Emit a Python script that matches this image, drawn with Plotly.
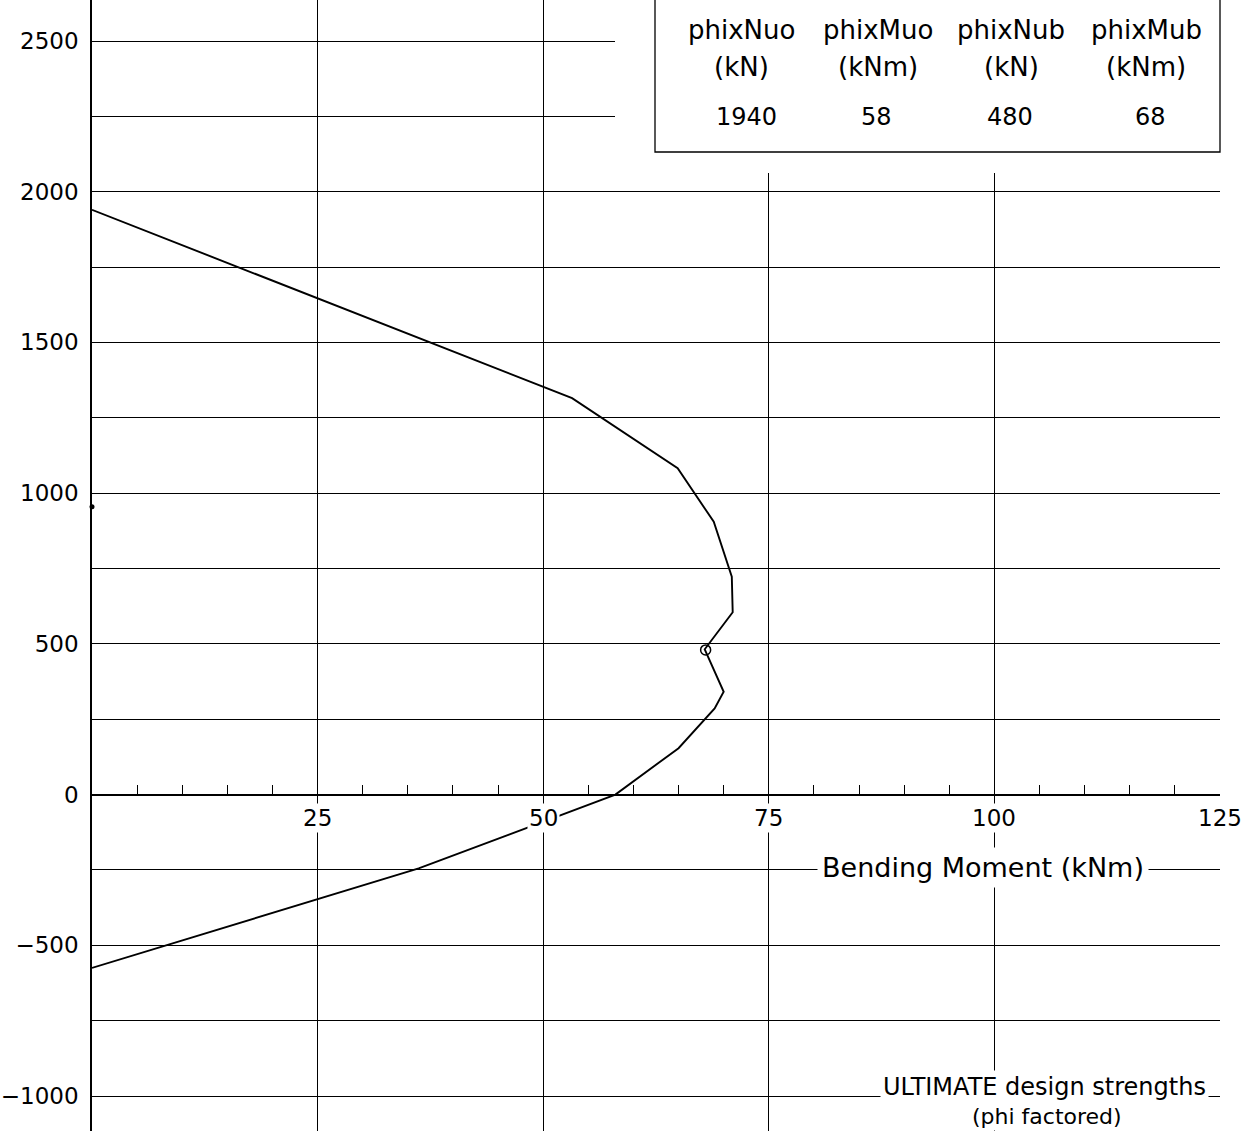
import plotly.graph_objects as go

# ---- data ----
moment_knm = [0, 53.2, 64.9, 68.9, 70.9, 71.0, 67.9, 70.0, 69.0, 65.0, 58.0, 36.2, 0]
axial_kn = [1940, 1315, 1083, 905, 723, 605, 482, 341, 286, 154, 0, -245, -575]

balance_moment = [68]
balance_axial = [480]

dot_moment = [0]
dot_axial = [955]

x_tick_vals = [25, 50, 75, 100, 125]
x_tick_text = ["25", "50", "75", "100", "125"]
x_minor_vals = [5, 10, 15, 20, 30, 35, 40, 45, 55, 60, 65, 70, 80, 85, 90, 95, 105, 110, 115, 120]

y_grid_vals = [-1000, -750, -500, -250, 0, 250, 500, 750, 1000, 1250, 1500, 1750, 2000, 2250, 2500]
y_tick_text = ["\u22121000", "", "\u2212500", "", "0", "", "500", "", "1000", "", "1500", "", "2000", "", "2500"]

table_headers = ["phixNuo", "phixMuo", "phixNub", "phixMub"]
table_units = ["(kN)", "(kNm)", "(kN)", "(kNm)"]
table_values = ["1940", "58", "480", "68"]

x_title = "Bending Moment (kNm)"
note_line1 = "ULTIMATE design strengths"
note_line2 = "(phi factored)"

FONT = "DejaVu Sans"
W, H = 1252, 1131
L, R = 92, 32

fig = go.Figure()
fig.add_trace(go.Scatter(x=moment_knm, y=axial_kn, mode="lines",
                         line=dict(color="black", width=1.9), hoverinfo="skip"))
fig.add_trace(go.Scatter(x=balance_moment, y=balance_axial, mode="markers",
                         marker=dict(symbol="circle-open", size=10, color="black",
                                     line=dict(width=1.5, color="black")), hoverinfo="skip"))
fig.add_trace(go.Scatter(x=dot_moment, y=dot_axial, mode="markers", cliponaxis=False,
                         marker=dict(symbol="circle", size=5, color="black"), hoverinfo="skip"))

fig.update_layout(
    width=W, height=H,
    margin=dict(l=L, r=R, t=0, b=0, pad=0, autoexpand=False),
    paper_bgcolor="white", plot_bgcolor="white",
    showlegend=False,
    font=dict(family=FONT, color="black", size=23),
    xaxis=dict(
        range=[0, 125], anchor="free", position=1 - 794.6 / H, automargin=False,
        tickmode="array", tickvals=[0] + x_tick_vals, showticklabels=False,
        ticks="inside", ticklen=9, tickwidth=1.2, tickcolor="black",
        showgrid=True, gridcolor="black", gridwidth=1.2,
        showline=True, linecolor="black", linewidth=1.5,
        zeroline=False, fixedrange=True,
        minor=dict(tickmode="array", tickvals=x_minor_vals, ticks="inside", ticklen=9,
                   tickwidth=1.2, tickcolor="black", showgrid=False),
    ),
    yaxis=dict(
        range=[-1116, 2636], automargin=False,
        tickmode="array", tickvals=y_grid_vals, ticktext=y_tick_text,
        ticks="", ticklabelstandoff=7,
        tickfont=dict(family=FONT, size=23, color="black"),
        showgrid=True, gridcolor="black", gridwidth=1.2,
        showline=True, linecolor="black", linewidth=1.5,
        zeroline=False, fixedrange=True,
    ),
)

def px_to_paper_x(px):
    return (px - L) / (W - L - R)

def px_to_paper_y(py):
    return 1 - py / H

# white area that hides the grid behind the table, then the table frame
fig.add_shape(type="rect", xref="paper", yref="paper", layer="above",
              x0=px_to_paper_x(615), x1=1.05, y0=px_to_paper_y(173), y1=1.02,
              fillcolor="white", line=dict(width=0))
fig.add_shape(type="rect", xref="paper", yref="paper", layer="above",
              x0=px_to_paper_x(655), x1=1.0, y0=px_to_paper_y(152), y1=px_to_paper_y(-3),
              fillcolor="rgba(0,0,0,0)", line=dict(color="black", width=1.3))

col_px = [741, 878, 1011, 1146]
val_px = [746, 876, 1010, 1150]
for i in range(4):
    fig.add_annotation(xref="paper", yref="paper", x=px_to_paper_x(col_px[i]), y=px_to_paper_y(30),
                       text=table_headers[i], showarrow=False, xanchor="center", yanchor="middle",
                       font=dict(family=FONT, size=26, color="black"))
    fig.add_annotation(xref="paper", yref="paper", x=px_to_paper_x(col_px[i]), y=px_to_paper_y(67),
                       text=table_units[i], showarrow=False, xanchor="center", yanchor="middle",
                       font=dict(family=FONT, size=26, color="black"))
    fig.add_annotation(xref="paper", yref="paper", x=px_to_paper_x(val_px[i]), y=px_to_paper_y(117),
                       text=table_values[i], showarrow=False, xanchor="center", yanchor="middle",
                       font=dict(family=FONT, size=24, color="black"))

# x tick labels with white background (interrupt grid lines like the reference)
for v, t in zip(x_tick_vals, x_tick_text):
    fig.add_annotation(x=v, y=0, xref="x", yref="y", text=t, showarrow=False,
                       xanchor="center", yanchor="middle", yshift=-23,
                       bgcolor="white", borderpad=1,
                       font=dict(family=FONT, size=23, color="black"))

# axis title on the -250 line
fig.add_annotation(x=98.7, y=-250, xref="x", yref="y", text=x_title, showarrow=False,
                   xanchor="center", yanchor="middle", yshift=2,
                   bgcolor="white", borderpad=4,
                   font=dict(family=FONT, size=27, color="black"))

# note at bottom right
fig.add_annotation(x=105.6, y=-1000, xref="x", yref="y", text=note_line1, showarrow=False,
                   xanchor="center", yanchor="bottom", yshift=-8,
                   bgcolor="white", borderpad=2,
                   font=dict(family=FONT, size=24, color="black"))
fig.add_annotation(x=105.8, y=-1000, xref="x", yref="y", text=note_line2, showarrow=False,
                   xanchor="center", yanchor="top", yshift=-6,
                   bgcolor="white", borderpad=1,
                   font=dict(family=FONT, size=22, color="black"))

fig.write_html("out.html", config={"displayModeBar": False},
               post_script="document.body.style.margin='0';")
